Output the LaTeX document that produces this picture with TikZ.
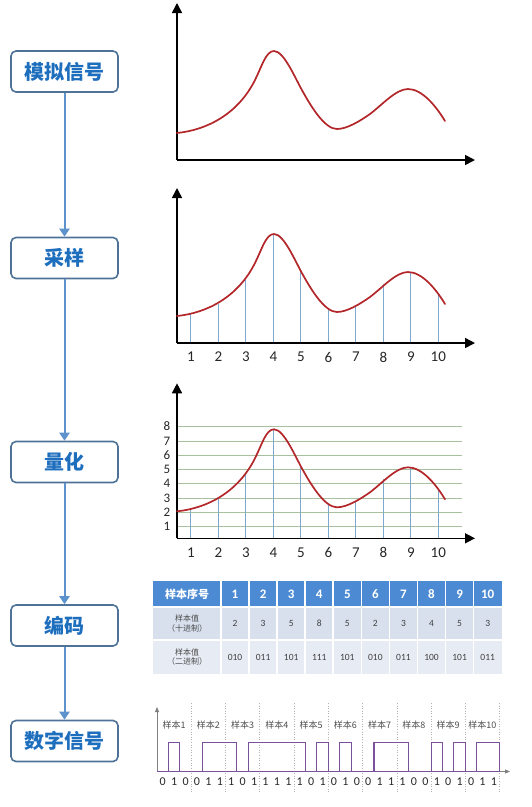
\documentclass[tikz,border=0pt]{standalone}
\usepackage{fontspec}
\setmainfont{Carlito}
\newfontfamily\cjk{Noto Sans CJK SC}
\usetikzlibrary{arrows.meta}

\definecolor{boxline}{HTML}{4F7398}
\definecolor{boxtext}{HTML}{1E6EBE}
\definecolor{flowblue}{HTML}{5E92CC}
\definecolor{curvered}{HTML}{B3262A}
\definecolor{sampblue}{HTML}{7FA8CF}
\definecolor{gridgreen}{HTML}{A7C09E}
\definecolor{headblue}{HTML}{4C8BD3}
\definecolor{rowgray}{HTML}{D8E0EE}
\definecolor{rowlight}{HTML}{E7EBF3}
\definecolor{pulsecol}{HTML}{7B519C}

\tikzset{
  stagebox/.style={draw=boxline, line width=1.6pt, rounded corners=5pt, fill=white,
    minimum width=107pt, minimum height=41pt, inner sep=0pt, text=boxtext,
    font=\cjk\bfseries\fontsize{20}{22}\selectfont},
  flowarrow/.style={draw=flowblue, line width=2pt, -{Triangle[width=10pt,length=8pt]}},
  axisline/.style={line width=1.5pt, -{Triangle[width=10pt,length=10pt]}},
  sampleline/.style={draw=sampblue, line width=0.9pt},
  gridline/.style={draw=gridgreen, line width=0.7pt},
  ticklabel/.style={text=black!85, font=\rmfamily\fontsize{15}{17}\selectfont, inner sep=0pt},
  headcell/.style={text=white, font=\rmfamily\bfseries\fontsize{13}{15}\selectfont, inner sep=0pt},
  tablecell/.style={text=black!75, font=\rmfamily\fontsize{9.5}{11}\selectfont, inner sep=0pt},
  rowlabel/.style={text=black!70, align=center, font=\cjk\fontsize{8}{9.5}\selectfont, inner sep=0pt},
  pulseline/.style={draw=pulsecol, line width=1.1pt},
  sampsep/.style={draw=gray!60, dotted, line width=0.6pt},
  samplabel/.style={text=black!70, font=\cjk\fontsize{9}{10}\selectfont, inner sep=0pt},
  bitlabel/.style={text=black!85, font=\rmfamily\fontsize{12}{14}\selectfont, inner sep=0pt},
  sigcurve/.pic={
    \draw[curvered, line width=1.7pt, line cap=round]
      (177,-27) .. controls (207,-30) and (238,-46) .. (255,-80)
      .. controls (262,-94) and (266,-109) .. (274,-109)
      .. controls (284,-109) and (295,-82) .. (303,-68)
      .. controls (312,-52) and (325,-31) .. (337,-31)
      .. controls (347,-31) and (360,-39) .. (370,-46)
      .. controls (382,-55) and (396,-71) .. (408,-71)
      .. controls (422,-71) and (436,-54) .. (445,-39);
  }
}

\begin{document}
\begin{tikzpicture}[x=1pt, y=-1pt, font=\cjk]
  \path[use as bounding box] (0,0) rectangle (531,807);

  % Stage boxes on the left side.
  \node[stagebox] (analog)   at (64.5,71.5)  {模拟信号};
  \node[stagebox] (sampling) at (64.5,258)   {采样};
  \node[stagebox] (quantize) at (64.5,462)   {量化};
  \node[stagebox] (encode)   at (64.5,625.5) {编码};
  \node[stagebox] (digital)  at (64.5,741)   {数字信号};

  % Arrows between the boxes.
  \draw[flowarrow] (analog.south)   -- (sampling.north);
  \draw[flowarrow] (sampling.south) -- (quantize.north);
  \draw[flowarrow] (quantize.south) -- (encode.north);
  \draw[flowarrow] (encode.south)   -- (digital.north);

  % The analog signal
  \begin{scope}[shift={(0,160)}]
    \draw[axisline] (177,0) -- (475,0);
    \draw[axisline] (177,0) -- (177,-157);
    \pic at (0,0) {sigcurve};
  \end{scope}

  % Sampling
  \begin{scope}[shift={(0,343)}]
    \foreach \h [count=\k] in {29,39,63,109,72,34,37,59,71,48}
      \draw[sampleline] ({163.3+27.5*\k},0) -- ({163.3+27.5*\k},-\h);
    \draw[axisline] (177,0) -- (475,0);
    \draw[axisline] (177,0) -- (177,-155);
    \pic at (0,0) {sigcurve};
    \foreach \k in {1,...,10}
      \node[ticklabel] (samp\k) at ({163.3+27.5*\k},14) {\k};
  \end{scope}

  % Quantization, with the level lines
  \begin{scope}[shift={(0,538.3)}]
    \foreach \k in {1,...,8} {
      \draw[gridline] (177,{2.6-14.29*\k}) -- (462,{2.6-14.29*\k});
      \node[ticklabel, font=\rmfamily\fontsize{13}{15}\selectfont] (lvl\k) at (167,{2.6-14.29*\k}) {\k};
    }
    \foreach \h [count=\k] in {29,39,63,109,72,34,37,59,71,48}
      \draw[sampleline] ({163.3+27.5*\k},0) -- ({163.3+27.5*\k},-\h);
    \draw[axisline] (177,0) -- (475,0);
    \draw[axisline] (177,0) -- (177,-155);
    \pic at (0,0) {sigcurve};
    \foreach \k in {1,...,10}
      \node[ticklabel] (quant\k) at ({163.3+27.5*\k},14) {\k};
  \end{scope}

  % Coding table
  \fill[headblue] (153.3,581) rectangle (501.7,606.7);
  \fill[rowgray]  (153.3,606.7) rectangle (501.7,640);
  \fill[rowlight] (153.3,640) rectangle (501.7,674.3);
  \foreach \c in {0,...,9}
    \draw[white, line width=1.6pt] ({221+28.07*\c},581) -- ({221+28.07*\c},674.3);
  \draw[white, line width=1.6pt] (153.3,606.7) -- (501.7,606.7);
  \draw[white, line width=1.6pt] (153.3,640) -- (501.7,640);

  \node[headcell, font=\cjk\bfseries\fontsize{11}{13}\selectfont] (headlabel) at (187.2,594) {样本序号};
  \node[rowlabel] (declabel) at (187.2,623.3) {样本值\\（十进制）};
  \node[rowlabel] (binlabel) at (187.2,657.1) {样本值\\（二进制）};
  \foreach \d/\b [count=\c] in {2/010,3/011,5/101,8/111,5/101,2/010,3/011,4/100,5/101,3/011} {
    \node[headcell]  (num\c) at ({221+28.07*(\c-0.5)},594)   {\c};
    \node[tablecell] (dec\c) at ({221+28.07*(\c-0.5)},623.3) {\d};
    \node[tablecell] (bin\c) at ({221+28.07*(\c-0.5)},657.1) {\b};
  }

  % Digital signal
  \foreach \k in {1,...,10} {
    \draw[sampsep] ({157+34.26*\k},703) -- ({157+34.26*\k},792);
    \node[samplabel] (tag\k) at ({157+34.26*(\k-0.5)},725) {样本\k};
  }
  \draw[gray, line width=0.8pt, -{Triangle[width=4pt,length=5pt]}] (157,771.5) -- (510,771.5);
  \draw[gray, line width=0.8pt, -{Triangle[width=4pt,length=5pt]}] (157,771.5) -- (157,707);
  \draw[pulseline] (157,771.5) -- (499.6,771.5);
  \foreach \a/\b in {1/2,4/7,8/13,14/15,16/17,19/22,24/25,26/27,28/30}
    \draw[pulseline] ({157+11.42*\a},771.5) |- ({157+11.42*\b},742.7) -- ({157+11.42*\b},771.5);
  \foreach \b [count=\i from 0] in {0,1,0,0,1,1,1,0,1,1,1,1,1,0,1,0,1,0,0,1,1,1,0,0,1,0,1,0,1,1}
    \node[bitlabel] (bit\i) at ({157+11.42*(\i+0.5)},782) {\b};

\end{tikzpicture}
\end{document}
